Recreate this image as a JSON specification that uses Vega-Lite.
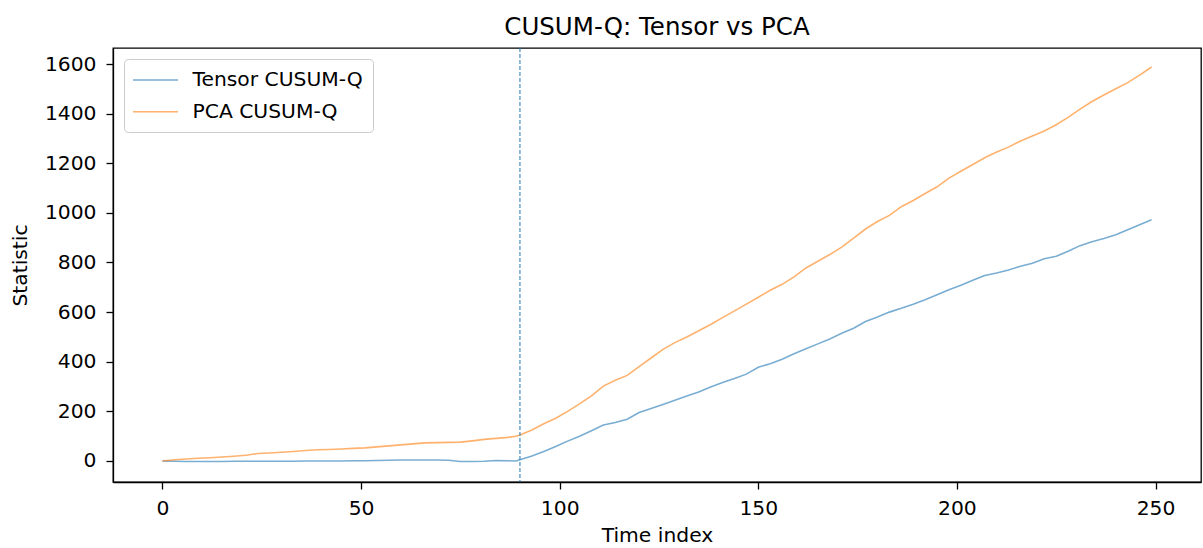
{
  "$schema": "https://vega.github.io/schema/vega-lite/v6.json",
  "width": 1088,
  "height": 434,
  "autosize": {"type": "none"},
  "padding": {"left": 113, "top": 48, "right": 2, "bottom": 66},
  "background": "white",
  "title": {"text": "CUSUM-Q: Tensor vs PCA", "fontSize": 24.5, "font": "DejaVu Sans", "fontWeight": "normal", "color": "#000", "anchor": "middle", "baseline": "alphabetic", "offset": -12},
  "config": {
    "font": "DejaVu Sans",
    "view": {"stroke": "#000", "strokeWidth": 1.3},
    "axis": {"grid": false, "domainColor": "#000", "domainWidth": 1.3, "tickColor": "#000", "tickWidth": 1.3, "tickSize": 7, "labelFontSize": 20.3, "labelColor": "#000", "titleFontSize": 20.3, "titleFontWeight": "normal", "titleColor": "#000", "labelFont": "DejaVu Sans", "titleFont": "DejaVu Sans"}
  },
  "datasets": {
    "series": [
      {"t":0,"tensor":0,"pca":0},{"t":3,"tensor":-1,"pca":5},{"t":6,"tensor":-2,"pca":8},{"t":9,"tensor":-2,"pca":11},{"t":12,"tensor":-2,"pca":13},{"t":15,"tensor":-2,"pca":16},{"t":18,"tensor":-1,"pca":19},{"t":21,"tensor":-1,"pca":23},{"t":24,"tensor":-1,"pca":30},{"t":27,"tensor":-1,"pca":32},{"t":30,"tensor":-1,"pca":35},{"t":33,"tensor":-1,"pca":38},{"t":36,"tensor":0,"pca":42},{"t":39,"tensor":0,"pca":45},{"t":42,"tensor":0,"pca":46},{"t":45,"tensor":0,"pca":48},{"t":48,"tensor":1,"pca":51},{"t":51,"tensor":1,"pca":53},{"t":54,"tensor":2,"pca":57},{"t":57,"tensor":3,"pca":61},{"t":60,"tensor":4,"pca":65},{"t":63,"tensor":4,"pca":69},{"t":66,"tensor":4,"pca":73},{"t":69,"tensor":4,"pca":74},{"t":72,"tensor":3,"pca":75},{"t":75,"tensor":-2,"pca":76},{"t":78,"tensor":-2,"pca":81},{"t":81,"tensor":-1,"pca":87},{"t":84,"tensor":2,"pca":91},{"t":87,"tensor":1,"pca":95},{"t":89,"tensor":0,"pca":100},{"t":90,"tensor":5,"pca":105},{"t":93,"tensor":20,"pca":125},{"t":96,"tensor":38,"pca":150},{"t":99,"tensor":58,"pca":172},{"t":102,"tensor":80,"pca":200},{"t":105,"tensor":100,"pca":230},{"t":108,"tensor":122,"pca":262},{"t":111,"tensor":145,"pca":302},{"t":114,"tensor":155,"pca":325},{"t":117,"tensor":168,"pca":345},{"t":120,"tensor":195,"pca":380},{"t":123,"tensor":212,"pca":415},{"t":126,"tensor":228,"pca":450},{"t":129,"tensor":245,"pca":477},{"t":132,"tensor":262,"pca":500},{"t":135,"tensor":278,"pca":525},{"t":138,"tensor":298,"pca":550},{"t":141,"tensor":316,"pca":578},{"t":144,"tensor":332,"pca":605},{"t":147,"tensor":350,"pca":632},{"t":150,"tensor":378,"pca":660},{"t":153,"tensor":392,"pca":688},{"t":156,"tensor":410,"pca":712},{"t":159,"tensor":432,"pca":742},{"t":162,"tensor":452,"pca":778},{"t":165,"tensor":472,"pca":805},{"t":168,"tensor":492,"pca":832},{"t":171,"tensor":515,"pca":862},{"t":174,"tensor":535,"pca":898},{"t":177,"tensor":562,"pca":935},{"t":180,"tensor":580,"pca":965},{"t":183,"tensor":600,"pca":990},{"t":186,"tensor":616,"pca":1025},{"t":189,"tensor":632,"pca":1050},{"t":192,"tensor":650,"pca":1078},{"t":195,"tensor":670,"pca":1105},{"t":198,"tensor":690,"pca":1140},{"t":201,"tensor":708,"pca":1168},{"t":204,"tensor":728,"pca":1195},{"t":207,"tensor":748,"pca":1222},{"t":210,"tensor":758,"pca":1245},{"t":213,"tensor":770,"pca":1265},{"t":216,"tensor":785,"pca":1290},{"t":219,"tensor":797,"pca":1310},{"t":222,"tensor":815,"pca":1330},{"t":225,"tensor":825,"pca":1355},{"t":228,"tensor":845,"pca":1385},{"t":231,"tensor":868,"pca":1418},{"t":234,"tensor":884,"pca":1449},{"t":237,"tensor":897,"pca":1475},{"t":240,"tensor":912,"pca":1500},{"t":243,"tensor":932,"pca":1525},{"t":246,"tensor":952,"pca":1555},{"t":249,"tensor":972,"pca":1588}
    ],
    "change": [{"t": 90}]
  },
  "layer": [
    {
      "data": {"name": "series"},
      "transform": [{"fold": ["tensor", "pca"], "as": ["key", "value"]},
        {"lookup": "key", "from": {"data": {"values": [{"key": "tensor", "name": "Tensor CUSUM-Q", "ord": 0}, {"key": "pca", "name": "PCA CUSUM-Q", "ord": 1}]}, "key": "key", "fields": ["name", "ord"]}}],
      "mark": {"type": "line", "strokeWidth": 1.6, "opacity": 0.6, "clip": true},
      "encoding": {
        "x": {"field": "t", "type": "quantitative", "scale": {"domain": [-12.45, 261.45], "nice": false, "zero": false}, "axis": {"values": [0, 50, 100, 150, 200, 250], "format": "d", "title": "Time index", "labelPadding": 9, "titlePadding": 7}},
        "y": {"field": "value", "type": "quantitative", "scale": {"domain": [-84.7, 1664.5], "nice": false, "zero": false}, "axis": {"values": [0, 200, 400, 600, 800, 1000, 1200, 1400, 1600], "format": "d", "title": "Statistic", "labelPadding": 10, "titlePadding": 14}},
        "color": {"field": "name", "type": "nominal", "sort": ["Tensor CUSUM-Q", "PCA CUSUM-Q"],
          "scale": {"domain": ["Tensor CUSUM-Q", "PCA CUSUM-Q"], "range": ["#1f77b4", "#ff7f0e"]},
          "legend": {"title": null, "orient": "top-left", "offset": 11, "symbolType": "M-2.25,0H2.25", "symbolSize": 400, "symbolOffset": 10.5, "symbolStrokeWidth": 1.6, "symbolOpacity": 0.6, "labelFontSize": 20.3, "labelColor": "#000", "labelLimit": 400, "labelOffset": 26, "rowPadding": 9.7, "padding": 10, "fillColor": "rgba(255,255,255,0.8)", "strokeColor": "#cccccc", "cornerRadius": 4}},
        "order": {"field": "t", "type": "quantitative"}
      }
    },
    {
      "data": {"name": "change"},
      "mark": {"type": "rule", "color": "#1f77b4", "strokeWidth": 1, "strokeDash": [4, 2]},
      "encoding": {"x": {"field": "t", "type": "quantitative"}}
    }
  ]
}
